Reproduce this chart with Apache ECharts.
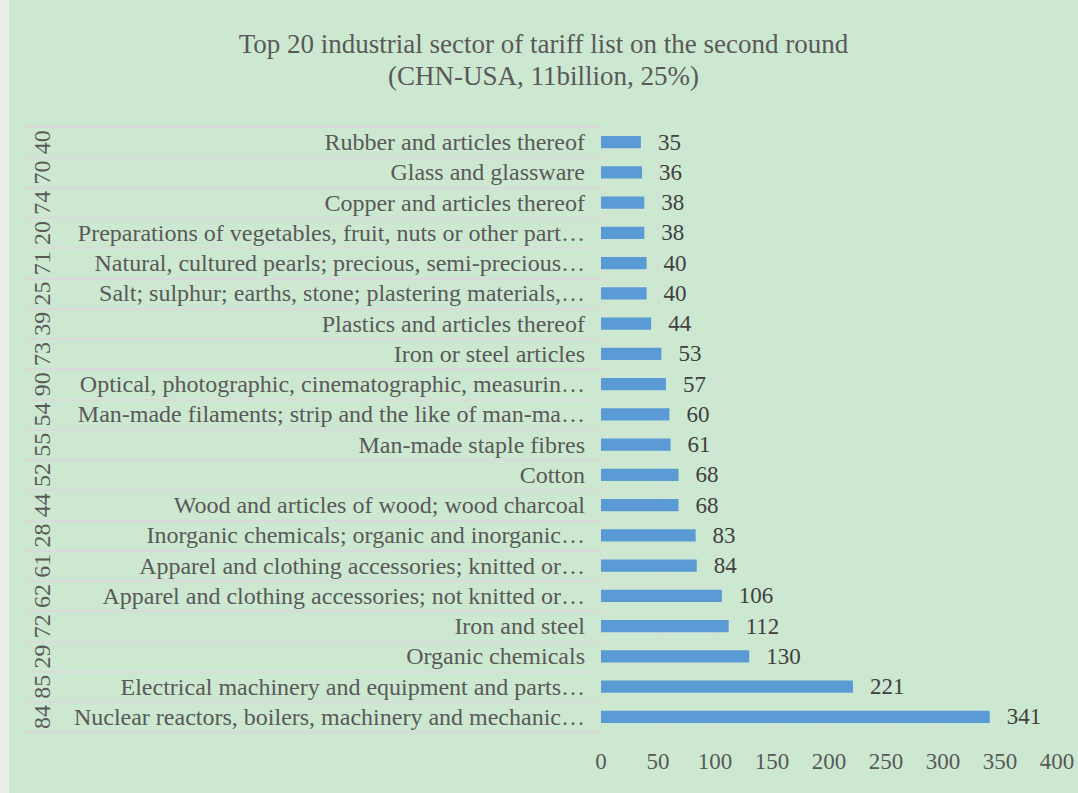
<!DOCTYPE html>
<html>
<head>
<meta charset="utf-8">
<script src="https://cdn.jsdelivr.net/npm/echarts@6/dist/echarts.min.js"></script>
<style>
  html, body { margin: 0; padding: 0; background: #e9efe9; }
  #chart { position: absolute; left: 9px; top: 0; width: 1069px; height: 793px; background: #cde8d0; }
</style>
</head>
<body>
<div id="chart"></div>
<script>
// HS 编码与行业名称（从上到下）
var codes = ['40', '70', '74', '20', '71', '25', '39', '73', '90', '54',
  '55', '52', '44', '28', '61', '62', '72', '29', '85', '84'];
var sectors = [
  'Rubber and articles thereof',
  'Glass and glassware',
  'Copper and articles thereof',
  'Preparations of vegetables, fruit, nuts or other part…',
  'Natural, cultured pearls; precious, semi-precious…',
  'Salt; sulphur; earths, stone; plastering materials,…',
  'Plastics and articles thereof',
  'Iron or steel articles',
  'Optical, photographic, cinematographic, measurin…',
  'Man-made filaments; strip and the like of man-ma…',
  'Man-made staple fibres',
  'Cotton',
  'Wood and articles of wood; wood charcoal',
  'Inorganic chemicals; organic and inorganic…',
  'Apparel and clothing accessories; knitted or…',
  'Apparel and clothing accessories; not knitted or…',
  'Iron and steel',
  'Organic chemicals',
  'Electrical machinery and equipment and parts…',
  'Nuclear reactors, boilers, machinery and mechanic…'
];
var values = [35, 36, 38, 38, 40, 40, 44, 53, 57, 60, 61, 68, 68, 83, 84, 106, 112, 130, 221, 341];

var font = '"Liberation Serif", "Times New Roman", serif';
var textColor = '#595959';
var lineColor = '#dadada';

var myChart = echarts.init(document.getElementById('chart'), null, {renderer: 'svg'});

var option = {
  animation: false,
  title: {
    text: 'Top 20 industrial sector of tariff list on the second round\n(CHN-USA, 11billion, 25%)',
    left: 'center',
    top: 23,
    textStyle: {
      fontFamily: font, fontSize: 27, fontWeight: 'normal',
      color: textColor, lineHeight: 32
    }
  },
  grid: [
    // 柱状图区域
    {left: 592, right: 21, top: 127, bottom: 61},
    // 左侧分类标签区域（用于分隔线）
    {left: 15, width: 577, top: 127, bottom: 61}
  ],
  xAxis: [
    {
      gridIndex: 0, type: 'value', min: 0, max: 400, interval: 50,
      axisLine: {show: false}, axisTick: {show: false},
      axisLabel: {fontFamily: font, fontSize: 23, color: textColor, margin: 18},
      splitLine: {lineStyle: {color: lineColor, width: 1}}
    },
    {gridIndex: 1, type: 'value', show: false}
  ],
  yAxis: [
    {
      gridIndex: 0, type: 'category', data: sectors, inverse: true,
      axisLine: {show: true, lineStyle: {color: lineColor}},
      axisTick: {show: false},
      axisLabel: {interval: 0, fontFamily: font, fontSize: 24, color: textColor, margin: 16}
    },
    {
      gridIndex: 1, type: 'category', data: codes, inverse: true, position: 'left',
      axisLine: {show: false}, axisTick: {show: false},
      axisLabel: {show: false},
      splitLine: {show: true, interval: 0, lineStyle: {color: lineColor, width: 2}}
    },
    {
      // 旋转的HS编码
      gridIndex: 1, type: 'category', data: codes, inverse: true, position: 'left', offset: -30,
      axisLine: {show: false}, axisTick: {show: false},
      axisLabel: {interval: 0, fontFamily: font, fontSize: 24, color: textColor, rotate: 90, margin: 0}
    }
  ],
  series: [
    {
      type: 'bar',
      xAxisIndex: 0, yAxisIndex: 0,
      data: values,
      barWidth: '40%',
      itemStyle: {color: '#5b9bd5'},
      label: {
        show: true, position: 'right', distance: 17,
        fontFamily: font, fontSize: 23, color: '#404040'
      }
    }
  ]
};

myChart.setOption(option);
</script>
</body>
</html>
